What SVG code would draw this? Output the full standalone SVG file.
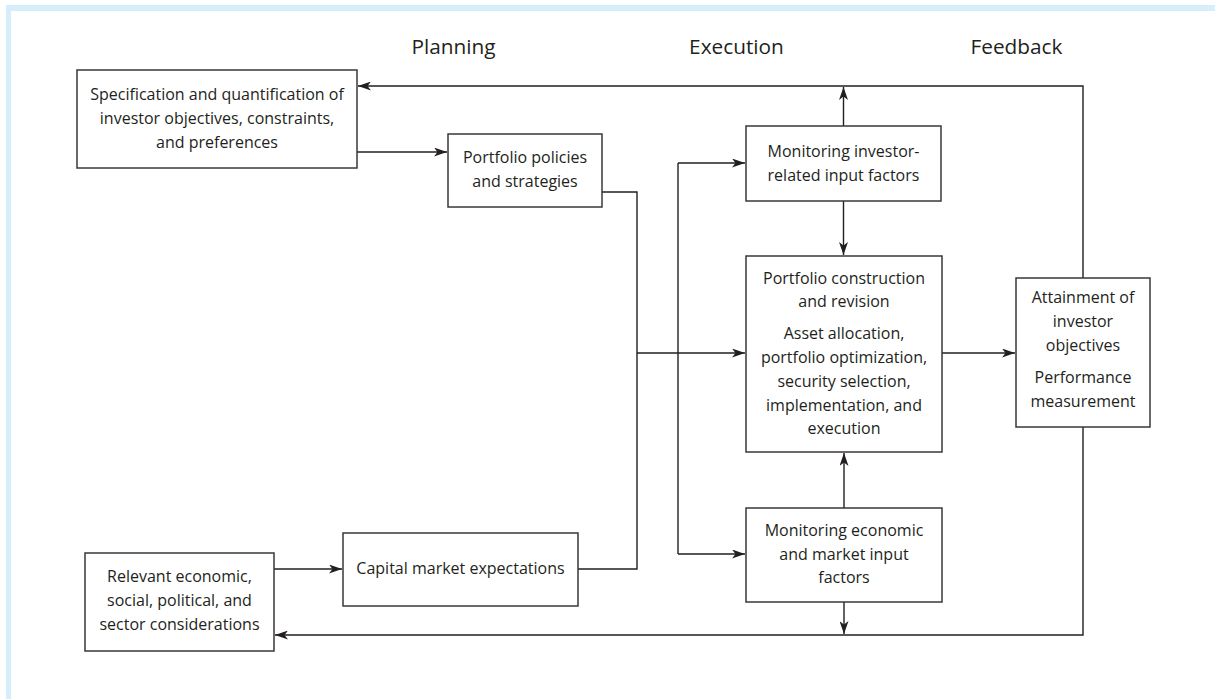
<svg xmlns="http://www.w3.org/2000/svg" width="1215" height="699" viewBox="0 0 1215 699">
<defs>
<marker id="ah" viewBox="0 0 13 9" refX="13" refY="4.5" markerWidth="13" markerHeight="9" markerUnits="userSpaceOnUse" orient="auto">
<path d="M0,0 L13,4.5 L0,9 L3.5,4.5 z" fill="#231f20"/>
</marker>
<style>
.box{fill:#fff;stroke:#3a3738;stroke-width:1.5}
.t{font-family:"Open Sans","Noto Sans","Liberation Sans",sans-serif;font-size:16px;fill:#231f20;text-anchor:middle}
.h{font-family:"Open Sans","Noto Sans","Liberation Sans",sans-serif;font-size:20.8px;fill:#231f20;text-anchor:middle}
.c{fill:none;stroke:#231f20;stroke-width:1.4}
.a{marker-end:url(#ah)}
</style>
</defs>
<rect x="0" y="0" width="1215" height="699" fill="#fff"/>
<rect x="6" y="5" width="1209" height="6" fill="#d6eefb"/>
<rect x="6" y="5" width="5" height="694" fill="#d6eefb"/>

<g id="headers">
<text class="h" x="453.5" y="54">Planning</text>
<text class="h" x="736.5" y="54">Execution</text>
<text class="h" x="1016.5" y="54">Feedback</text>
</g>

<g id="connectors">
<path class="c a" d="M357,152 H447"/>
<path class="c a" d="M1083,278 V86 H358"/>
<path class="c a" d="M843.5,126 V87"/>
<path class="c a" d="M843.5,201 V255"/>
<path class="c" d="M602,192 H637 V569 H578"/>
<path class="c a" d="M637,353 H745"/>
<path class="c" d="M678,163 V554"/>
<path class="c a" d="M678,163 H745"/>
<path class="c a" d="M678,554 H745"/>
<path class="c a" d="M942,353 H1015"/>
<path class="c a" d="M844,508 V453"/>
<path class="c a" d="M844,602 V634"/>
<path class="c a" d="M1083,427 V635 H275"/>
<path class="c a" d="M274,569 H342"/>
</g>

<g id="n1">
<rect class="box" x="77" y="70" width="280" height="98"/>
<text class="t" x="217" y="100">Specification and quantification of</text>
<text class="t" x="217" y="124">investor objectives, constraints,</text>
<text class="t" x="217" y="148">and preferences</text>
</g>
<g id="n2">
<rect class="box" x="448" y="134" width="154" height="73"/>
<text class="t" x="525" y="163">Portfolio policies</text>
<text class="t" x="525" y="187">and strategies</text>
</g>
<g id="n3">
<rect class="box" x="746" y="126" width="195" height="75"/>
<text class="t" x="843.5" y="157">Monitoring investor-</text>
<text class="t" x="843.5" y="181">related input factors</text>
</g>
<g id="n4">
<rect class="box" x="746" y="256" width="196" height="196"/>
<text class="t" x="844" y="284">Portfolio construction</text>
<text class="t" x="844" y="307">and revision</text>
<text class="t" x="844" y="339">Asset allocation,</text>
<text class="t" x="844" y="363">portfolio optimization,</text>
<text class="t" x="844" y="387">security selection,</text>
<text class="t" x="844" y="411">implementation, and</text>
<text class="t" x="844" y="434">execution</text>
</g>
<g id="n5">
<rect class="box" x="1016" y="278" width="134" height="149"/>
<text class="t" x="1083" y="303">Attainment of</text>
<text class="t" x="1083" y="327">investor</text>
<text class="t" x="1083" y="351">objectives</text>
<text class="t" x="1083" y="383">Performance</text>
<text class="t" x="1083" y="407">measurement</text>
</g>
<g id="n6">
<rect class="box" x="343" y="533" width="235" height="73"/>
<text class="t" x="460.5" y="574">Capital market expectations</text>
</g>
<g id="n7">
<rect class="box" x="746" y="508" width="196" height="94"/>
<text class="t" x="844" y="536">Monitoring economic</text>
<text class="t" x="844" y="560">and market input</text>
<text class="t" x="844" y="583">factors</text>
</g>
<g id="n8">
<rect class="box" x="85" y="553" width="189" height="98"/>
<text class="t" x="179.5" y="582">Relevant economic,</text>
<text class="t" x="179.5" y="606">social, political, and</text>
<text class="t" x="179.5" y="630">sector considerations</text>
</g>
</svg>
